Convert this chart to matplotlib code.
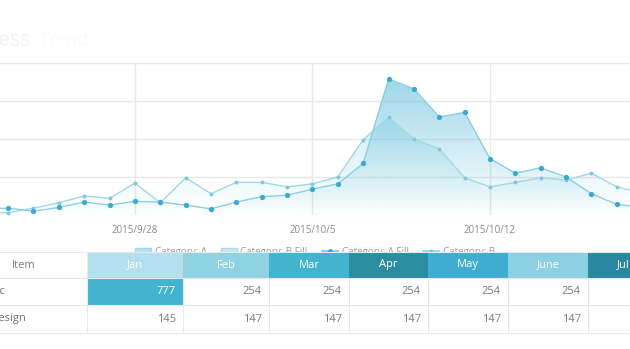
import numpy as np
import pandas as pd
import matplotlib
matplotlib.use('Agg')
import matplotlib.pyplot as plt
import matplotlib.dates as mdates
from matplotlib.colors import to_rgb
from matplotlib.patches import Rectangle, Patch
from matplotlib.lines import Line2D

plt.rcParams['font.family'] = ['Open Sans', 'DejaVu Sans']

#%% Daten
dates = pd.date_range('2015-09-22', periods=27, freq='D')
cat_a = [8, 9, 5, 10, 17, 13, 18, 17, 13, 8, 17, 24, 26, 34, 41, 68,
         179, 166, 129, 135, 74, 55, 62, 50, 28, 14, 10]
cat_b = [3, 3, 9, 16, 25, 22, 42, 16, 49, 28, 43, 43, 37, 41, 50, 99,
         129, 100, 87, 49, 37, 43, 49, 46, 55, 37, 29]

months = ['Jan', 'Feb', 'Mar', 'Apr', 'May', 'June', 'Jul']
items = ['Graphic', 'Web Design']
row_graphic = [777, 254, 254, 254, 254, 254, 254]
row_design = [145, 147, 147, 147, 147, 147, 147]
header_colors = ['#b3e0ec', '#8fd3e3', '#42b4d0', '#2b8ea0', '#40acd0', '#8dcfe3', '#2a87a0']

W, H = 630, 349
fig = plt.figure(figsize=(W/100, H/100), dpi=100)
fig.patch.set_facecolor('white')

# faint title, mostly off-canvas
fig.text(30/W, 1-40/H, 'Business', ha='right', va='center', fontsize=15, color='#f4f4f4')
fig.text(40/W, 1-40/H, 'Trend', ha='left', va='center', fontsize=13, color='#fbfbfb')

#%% Liniendiagramm
ax = fig.add_axes([0, 1-215/H, 1, 152/H])
xn = mdates.date2num(dates)


def grad_fill(x, y, color, amax, z):
    poly = ax.fill_between(x, y, 0, facecolor='none', edgecolor='none')
    img = np.zeros((200, 1, 4))
    img[:, :, :3] = to_rgb(color)
    img[:, 0, 3] = np.linspace(0, amax, 200)
    im = ax.imshow(img, aspect='auto', origin='lower', extent=[x.min(), x.max(), 0, 200],
                   zorder=z, interpolation='bilinear')
    im.set_clip_path(poly.get_paths()[0], transform=ax.transData)


grad_fill(xn, np.array(cat_b), '#5cc0da', 0.45, 1)
grad_fill(xn, np.array(cat_a), '#4db6d6', 0.6, 1.1)

ax.plot(xn, cat_b, color='#a3d8e8', lw=1, marker='o', ms=2.8, mfc='#7fc8de', mec='none', zorder=3)
ax.plot(xn, cat_a, color='#8ccfe2', lw=1, marker='o', ms=3.8, mfc='#3aaacf', mec='none', zorder=4)

ax.set_ylim(0, 200)
ax.set_yticks([0, 50, 100, 150, 200])
t0 = mdates.date2num(pd.Timestamp('2015-09-28'))
ax.set_xlim(t0 - 5.32, t0 + 14 + 5.52)
ax.xaxis.set_major_locator(mdates.WeekdayLocator(byweekday=mdates.MO))
ax.xaxis.set_major_formatter(plt.FuncFormatter(
    lambda v, p: '{d.year}/{d.month}/{d.day}'.format(d=mdates.num2date(v))))
ax.grid(True, color='#e8e8e8', lw=1)
ax.set_axisbelow(True)
for s in ax.spines.values():
    s.set_visible(False)
ax.tick_params(length=0, labelsize=7, labelcolor='#8a8a8a', pad=7)
ax.set_yticklabels([])
ax.set_facecolor('none')

handles = [Patch(facecolor='#b8e1ed', edgecolor='#a0d6e6'),
           Patch(facecolor='#c9e8f1', edgecolor='#a8d9e8'),
           Line2D([], [], color='#8ccfe2', marker='o', ms=3.5, mfc='#3aaacf', mec='none'),
           Line2D([], [], color='#a3d8e8', marker='o', ms=2.8, mfc='#7fc8de', mec='none')]
ax.legend(handles, ['Category: A', 'Category: B Fill', 'Category: A Fill', 'Category: B'],
          loc='center', bbox_to_anchor=(315/W, -37/152), ncol=4, frameon=False,
          fontsize=7, labelcolor='#9a9a9a', handlelength=1.6, columnspacing=1.5,
          handletextpad=0.4)

#%% Tabelle
tax = fig.add_axes([0, 0, 1, 1], zorder=5)
tax.set_xlim(0, W)
tax.set_ylim(H, 0)
tax.axis('off')
tax.patch.set_alpha(0)

col_edges = [-40, 87, 183, 269, 349, 428, 508, 588, 658]
row_edges = [252, 278, 305, 333]
line_c = '#e6e9ea'

tax.add_patch(Rectangle((col_edges[0], row_edges[0]), col_edges[-1]-col_edges[0],
                        row_edges[-1]-row_edges[0], facecolor='white', edgecolor='none'))
hy = (row_edges[0]+row_edges[1])/2
tax.text((col_edges[0]+col_edges[1])/2, hy, 'Item', ha='center', va='center',
         fontsize=8, color='#7a7a7a')
for i, m in enumerate(months):
    x0, x1 = col_edges[i+1], col_edges[i+2]
    tax.add_patch(Rectangle((x0, row_edges[0]), x1-x0, row_edges[1]-row_edges[0],
                            facecolor=header_colors[i], edgecolor='none'))
    tax.text((x0+x1)/2, hy, m, ha='center', va='center', fontsize=8, color='white')

for r, (name, vals) in enumerate(zip(items, [row_graphic, row_design])):
    y0, y1 = row_edges[r+1], row_edges[r+2]
    yc = (y0+y1)/2
    tax.text(-36, yc, name, ha='left', va='center', fontsize=8, color='#707070')
    for i, v in enumerate(vals):
        x0, x1 = col_edges[i+1], col_edges[i+2]
        hl = (r == 0 and i == 0)
        if hl:
            tax.add_patch(Rectangle((x0, y0), x1-x0, y1-y0, facecolor='#42b4d0', edgecolor='none'))
        tax.text(x1-7, yc, str(v), ha='right', va='center', fontsize=8,
                 color='white' if hl else '#7a7a7a')

for y in row_edges:
    tax.plot([col_edges[0], col_edges[-1]], [y, y], color=line_c, lw=0.8)
for x in col_edges[1:]:
    tax.plot([x, x], [row_edges[1], row_edges[-1]], color=line_c, lw=0.8)
tax.plot([col_edges[1], col_edges[1]], [row_edges[0], row_edges[1]], color=line_c, lw=0.8)

fig.savefig('out.png', dpi=100)
